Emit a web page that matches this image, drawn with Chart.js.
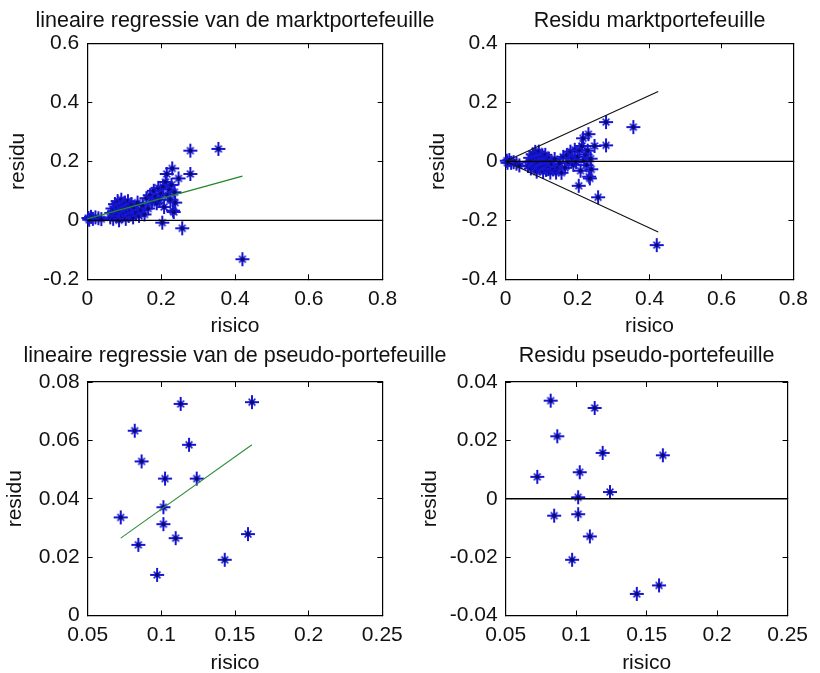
<!DOCTYPE html>
<html>
<head>
<meta charset="utf-8">
<script src="https://cdn.jsdelivr.net/npm/chart.js@4.4.1/dist/chart.umd.min.js"></script>
<style>
  html, body { margin: 0; padding: 0; background: #fff; }
  #wrap { position: relative; width: 820px; height: 673px; overflow: hidden; background: #fff; }
  #wrap canvas { position: absolute; left: 0; top: 0; }
</style>
</head>
<body>
<div id="wrap">
  <canvas id="c1" width="820" height="673"></canvas>
  <canvas id="c2" width="820" height="673"></canvas>
  <canvas id="c3" width="820" height="673"></canvas>
  <canvas id="c4" width="820" height="673"></canvas>
</div>
<script>
// --- marktportefeuille (top row) ---
var marktRisico = [
  0.003, 0.010, 0.015, 0.022, 0.030, 0.038, 0.005,
  0.062, 0.065, 0.068, 0.070, 0.072, 0.075, 0.078, 0.080, 0.082, 0.084,
  0.086, 0.088, 0.090, 0.092, 0.094, 0.096, 0.098, 0.100, 0.102, 0.104,
  0.106, 0.108, 0.110, 0.112, 0.114, 0.116, 0.118, 0.120, 0.124, 0.128,
  0.132, 0.136, 0.140, 0.145, 0.150, 0.155, 0.160, 0.165, 0.170,
  0.175, 0.180, 0.185, 0.188, 0.192, 0.196, 0.200, 0.205, 0.208, 0.212,
  0.215, 0.218, 0.222, 0.225, 0.228, 0.230, 0.232, 0.234, 0.236, 0.238, 0.247,
  0.203, 0.257, 0.279, 0.279, 0.355, 0.420
];
var marktRendement = [
  0.008, 0.012, 0.005, 0.010, 0.007, 0.004, 0.002,
  0.010, 0.025, 0.040, 0.005, 0.030, 0.055, 0.015, 0.045, 0.065, 0.025,
  0.000, 0.050, 0.035, 0.070, 0.015, 0.055, 0.040, 0.025, 0.060, 0.005,
  0.045, 0.030, 0.065, 0.015, 0.050, 0.035, 0.020, 0.055, 0.010, 0.040,
  0.025, 0.060, 0.015, 0.035, 0.050, 0.020, 0.075, 0.040, 0.085,
  0.060, 0.100, 0.080, 0.058, 0.110, 0.070, 0.090, 0.114, 0.045, 0.130,
  0.157, 0.085, 0.105, 0.070, 0.120, 0.176, 0.033, 0.028, 0.095, 0.060, 0.142,
  -0.008, -0.027, 0.157, 0.236, 0.242, -0.132
];
var marktResidu = [
  0.002, 0.004, -0.005, -0.003, -0.008, -0.014, -0.005,
  -0.016, -0.002, 0.012, -0.024, 0.000, 0.024, -0.017, 0.012, 0.032, -0.009,
  -0.035, 0.015, -0.001, 0.033, -0.022, 0.017, 0.001, -0.015, 0.020, -0.036,
  0.003, -0.012, 0.022, -0.029, 0.006, -0.010, -0.026, 0.009, -0.038, -0.009,
  -0.026, 0.008, -0.038, -0.020, -0.007, -0.039, 0.015, -0.022, 0.021,
  -0.005, 0.033, 0.011, -0.012, 0.039, -0.003, 0.016, 0.038, -0.032, 0.052,
  0.078, 0.005, 0.023, -0.013, 0.036, 0.092, -0.052, -0.058, 0.009, -0.027, 0.052,
  -0.083, -0.122, 0.054, 0.133, 0.116, -0.284
];
var marktFitX = [0, 0.42];
var marktFitY = [0.005, 0.150];
var coneX = [0, 0.424];
var coneUpper = [0, 0.237];
var coneLower = [0, -0.240];
var marktZeroX = [0, 0.8];

// --- pseudo-portefeuille (bottom row) ---
var pseudoRisico = [
  0.0724, 0.0819, 0.0844, 0.0866, 0.0971, 0.1014, 0.1014, 0.1025,
  0.1097, 0.1131, 0.1188, 0.1240, 0.1430, 0.1588, 0.1615
];
var pseudoRendement = [
  0.0336, 0.0633, 0.0242, 0.0528, 0.0139, 0.0371, 0.0313, 0.0469,
  0.0265, 0.0725, 0.0585, 0.0469, 0.0191, 0.0279, 0.0731
];
var pseudoResidu = [
  0.0075, 0.0336, -0.0058, 0.0214, -0.0209, 0.0005, -0.0053, 0.0091,
  -0.0129, 0.0311, 0.0157, 0.0023, -0.0326, -0.0297, 0.0149
];
var pseudoFitX = [0.0724, 0.1615];
var pseudoFitY = [0.0265, 0.0585];
var pseudoZeroX = [0.05, 0.25];

// --- ticks ---
var marktXTicks = [0, 0.2, 0.4, 0.6, 0.8];
var marktYTicks = [-0.2, 0, 0.2, 0.4, 0.6];
var residuYTicks = [-0.4, -0.2, 0, 0.2, 0.4];
var pseudoXTicks = [0.05, 0.1, 0.15, 0.2, 0.25];
var pseudoYTicks = [0, 0.02, 0.04, 0.06, 0.08];
var pseudoResYTicks = [-0.04, -0.02, 0, 0.02, 0.04];

var FONT = { family: '"Liberation Sans", Arial, sans-serif', size: 21, weight: 'normal', lineHeight: 1.2 };
var TITLE_SIZE = 21.5;
var TEXT = '#111';
var STAR = 'rgb(22,22,210)';
var HALF = FONT.size * FONT.lineHeight / 2;

// matlab-like '*' marker: long plus arms, short diagonals, dark centre
function starMarker() {
  var c = document.createElement('canvas');
  c.width = 16; c.height = 16;
  var g = c.getContext('2d');
  g.strokeStyle = STAR;
  g.lineWidth = 2;
  g.beginPath();
  g.moveTo(8, 1); g.lineTo(8, 15);
  g.moveTo(1, 8); g.lineTo(15, 8);
  g.stroke();
  g.lineWidth = 1.5;
  g.beginPath();
  g.moveTo(4.6, 4.6); g.lineTo(11.4, 11.4);
  g.moveTo(11.4, 4.6); g.lineTo(4.6, 11.4);
  g.stroke();
  g.fillStyle = '#0a0a70';
  g.beginPath(); g.arc(8, 8, 2, 0, Math.PI * 2); g.fill();
  return c;
}
var MARKER = starMarker();

// title drawn centred over the plot box, without the width squeeze of the title plugin
var plotTitle = {
  id: 'plotTitle',
  afterDraw: function (chart, args, opts) {
    var ctx = chart.ctx, a = chart.chartArea;
    ctx.save();
    ctx.font = TITLE_SIZE + 'px ' + FONT.family;
    ctx.fillStyle = TEXT;
    ctx.textAlign = 'center';
    ctx.textBaseline = 'middle';
    ctx.fillText(opts.text, (a.left + a.right) / 2, a.top - opts.gap);
    ctx.restore();
  }
};

function pts(xs, ys) {
  return xs.map(function (x, i) { return { x: x, y: ys[i] }; });
}

function stars(xs, ys) {
  return {
    data: pts(xs, ys), pointStyle: MARKER, pointRadius: 7,
    borderColor: STAR, backgroundColor: STAR,
    showLine: false, clip: false, order: 2
  };
}

function line(xs, ys, color, width) {
  return {
    data: pts(xs, ys), showLine: true, pointRadius: 0, borderColor: color,
    borderWidth: width, fill: false, clip: false, order: 1
  };
}

function setTicks(values) {
  return function (scale) {
    scale.ticks = values.map(function (v) { return { value: v }; });
  };
}

function axis(pos, range, ticks, extra) {
  var a = {
    type: 'linear', position: pos, min: range[0], max: range[1],
    afterBuildTicks: setTicks(ticks),
    border: { display: true, color: '#000', width: 1.2 },
    grid: { drawOnChartArea: false, drawTicks: true, tickLength: -5, color: '#000', lineWidth: 1 },
    ticks: { display: false }
  };
  for (var k in extra) a[k] = extra[k];
  return a;
}

function makePlot(id, p) {
  // p.area: target plot box; p.titleY / p.xTitleY / p.yTitleX: text centres
  var padLeft = p.yTitleX - HALF;
  var xBottom = p.xTitleY + HALF;
  var yWidth = p.area.left - padLeft;
  var xHeight = xBottom - p.area.bottom;

  new Chart(document.getElementById(id), {
    type: 'scatter',
    data: { datasets: p.datasets },
    plugins: [plotTitle],
    options: {
      responsive: false,
      animation: false,
      devicePixelRatio: 1,
      layout: { padding: { left: padLeft, top: p.area.top, right: 820 - p.area.right, bottom: 673 - xBottom } },
      plugins: {
        legend: { display: false },
        tooltip: { enabled: false },
        title: { display: false },
        plotTitle: { text: p.title, gap: p.area.top - p.titleY }
      },
      scales: {
        x: axis('bottom', p.xRange, p.xTicks, {
          afterFit: function (s) { s.height = xHeight; },
          ticks: { display: true, padding: 12, color: TEXT, font: FONT, maxRotation: 0, autoSkip: false,
                   callback: function (v) { return String(v); } },
          title: { display: true, text: 'risico', color: TEXT, font: FONT, padding: 0 }
        }),
        y: axis('left', p.yRange, p.yTicks, {
          afterFit: function (s) { s.width = yWidth; },
          ticks: { display: true, padding: 13, color: TEXT, font: FONT, autoSkip: false,
                   callback: function (v) { return String(v); } },
          title: { display: true, text: 'residu', color: TEXT, font: FONT, padding: 0 }
        }),
        x2: axis('top', p.xRange, p.xTicks, { afterFit: function (s) { s.height = 0; } }),
        y2: axis('right', p.yRange, p.yTicks, { afterFit: function (s) { s.width = 0; } })
      }
    }
  });
}

makePlot('c1', {
  title: 'lineaire regressie van de marktportefeuille',
  area: { left: 87.3, right: 382.7, top: 43.3, bottom: 279.3 },
  titleY: 21.3, xTitleY: 326.5, yTitleX: 18.3,
  xRange: [0, 0.8], yRange: [-0.2, 0.6], xTicks: marktXTicks, yTicks: marktYTicks,
  datasets: [
    line(marktFitX, marktFitY, '#23872b', 1.3),
    line(marktZeroX, [0, 0], '#000', 1.3),
    stars(marktRisico, marktRendement)
  ]
});

makePlot('c2', {
  title: 'Residu marktportefeuille',
  area: { left: 505.7, right: 799, top: 43.3, bottom: 279.3 },
  titleY: 21.3, xTitleY: 326.5, yTitleX: 438,
  xRange: [0, 0.8], yRange: [-0.4, 0.4], xTicks: marktXTicks, yTicks: residuYTicks,
  datasets: [
    line(coneX, coneUpper, '#111', 1.1),
    line(coneX, coneLower, '#111', 1.1),
    line(marktZeroX, [0, 0], '#000', 1.3),
    stars(marktRisico, marktResidu)
  ]
});

makePlot('c3', {
  title: 'lineaire regressie van de pseudo-portefeuille',
  area: { left: 87.7, right: 382.3, top: 382, bottom: 615.5 },
  titleY: 356.5, xTitleY: 663.2, yTitleX: 15,
  xRange: [0.05, 0.25], yRange: [0, 0.08], xTicks: pseudoXTicks, yTicks: pseudoYTicks,
  datasets: [
    line(pseudoFitX, pseudoFitY, '#2f8f3a', 1.1),
    stars(pseudoRisico, pseudoRendement)
  ]
});

makePlot('c4', {
  title: 'Residu pseudo-portefeuille',
  area: { left: 505.7, right: 799.3, top: 382, bottom: 615.5 },
  titleY: 356.5, xTitleY: 663.2, yTitleX: 430,
  xRange: [0.05, 0.25], yRange: [-0.04, 0.04], xTicks: pseudoXTicks, yTicks: pseudoResYTicks,
  datasets: [
    line(pseudoZeroX, [0, 0], '#000', 1.3),
    stars(pseudoRisico, pseudoResidu)
  ]
});
</script>
</body>
</html>
